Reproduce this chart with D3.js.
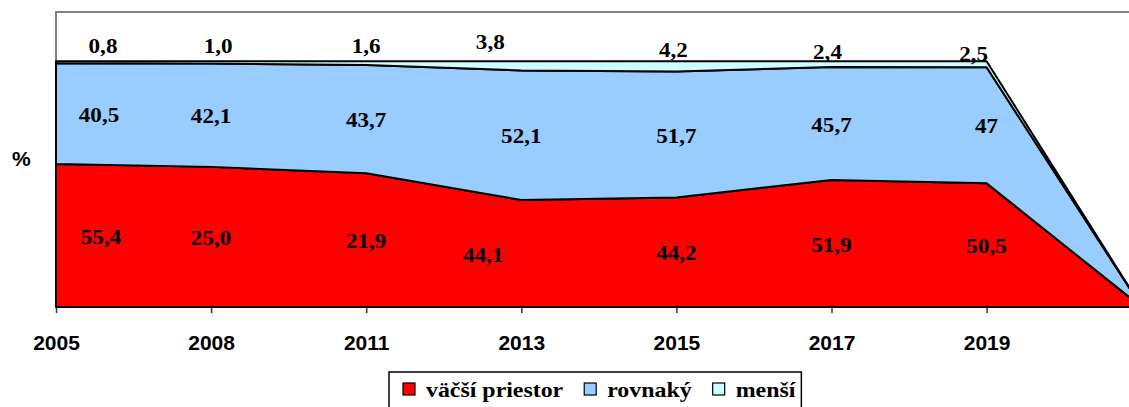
<!DOCTYPE html>
<html>
<head>
<meta charset="utf-8">
<script src="https://cdn.jsdelivr.net/npm/d3@7"></script>
<style>
  body { margin: 0; background: #fff; }
  svg { display: block; }
  .serif { font-family: "Liberation Serif", "Times New Roman", "DejaVu Serif", serif; font-weight: bold; font-size: 21px; }
  .legend-text { font-size: 22px; }
  .sans { font-family: "Liberation Sans", Arial, sans-serif; font-weight: bold; font-size: 21px; }
</style>
</head>
<body>
<div id="chart"></div>
<script>
// categories (last one is an empty category, the areas fall to zero there)
const years = ["2005", "2008", "2011", "2013", "2015", "2017", "2019", ""];

// stacked heights in %
const vacsi   = [58.2, 57.0, 54.4, 43.5, 44.5, 51.7, 50.3, 0];
const rovnaky = [41.0, 42.0, 44.0, 52.7, 51.3, 45.9, 47.2, 0];
const mensi   = [0.8, 1.0, 1.6, 3.8, 4.2, 2.4, 2.5, 0];

// data label texts as printed on the chart
const labelsVacsi   = ["55,4", "25,0", "21,9", "44,1", "44,2", "51,9", "50,5"];
const labelsRovnaky = ["40,5", "42,1", "43,7", "52,1", "51,7", "45,7", "47"];
const labelsMensi   = ["0,8", "1,0", "1,6", "3,8", "4,2", "2,4", "2,5"];

const seriesNames = ["väčší priestor", "rovnaký", "menší"];

const w = 1129, h = 407;
const plotLeft = 56, plotTop = 12, plotBottom = 307, step = 155.1;

const colors = { "väčší priestor": "#FF0000", "rovnaký": "#99CCFF", "menší": "#CCFFFF" };

// hand moved labels (the author dragged some of them)
const nudge = {
  "väčší priestor": { dx: [45, 0, 0, -38, 0, 0, 0], dy: [1, 1, 1, 1, 1, 1, 1] },
  "rovnaký":        { dx: [43, 0, 0, 0, 0, 0, 0],   dy: [1, 1, 1, 1, 1, 1, 1] },
  "menší":          { dx: [47, 7, 0, -31, -3, -4, -13], dy: [-15, -15, -15, -19, -11, -9, -7] }
};

// the serif texts in the original are a bit wider than normal
function stretch(sel, k) {
  sel.each(function() {
    let len = this.getComputedTextLength();
    d3.select(this)
      .attr("textLength", len * k)
      .attr("lengthAdjust", "spacingAndGlyphs");
  });
}

let table = years.map((y, i) => ({
  year: y, i: i,
  "väčší priestor": vacsi[i],
  "rovnaký": rovnaky[i],
  "menší": mensi[i]
}));

let stacked = d3.stack().keys(seriesNames)(table);

let svg = d3.select("#chart").append("svg")
  .attr("width", w)
  .attr("height", h);

let xScale = d3.scalePoint()
  .domain(d3.range(years.length))
  .range([plotLeft, plotLeft + step * (years.length - 1)]);

let yScale = d3.scaleLinear()
  .domain([0, 120])
  .range([plotBottom, plotTop]);

// plot area border (gray)
svg.append("path")
  .attr("d", "M" + plotLeft + "," + plotBottom + "V" + plotTop + "H" + w)
  .attr("fill", "none")
  .attr("stroke", "#808080")
  .attr("stroke-width", 2);

let area = d3.area()
  .x(d => xScale(d.data.i))
  .y0(d => yScale(d[0]))
  .y1(d => yScale(d[1]));

svg.selectAll("path.area")
  .data(stacked)
  .enter()
  .append("path")
  .attr("class", "area")
  .attr("d", area)
  .attr("fill", d => colors[d.key])
  .attr("stroke", "#000")
  .attr("stroke-width", 2)
  .attr("stroke-linejoin", "round");

// x axis
let xAxis = d3.axisBottom(xScale)
  .tickValues(d3.range(years.length - 1))
  .tickSize(6)
  .tickSizeOuter(0)
  .tickFormat(i => years[i]);

let gx = svg.append("g")
  .attr("transform", "translate(0," + plotBottom + ")")
  .call(xAxis);

gx.attr("font-family", null).attr("font-size", null);
gx.select(".domain").remove();
gx.append("line")
  .attr("x1", plotLeft).attr("x2", w)
  .attr("stroke", "#000").attr("stroke-width", 2);
gx.selectAll(".tick line").attr("stroke", "#333").attr("stroke-width", 1.5);
gx.selectAll(".tick text")
  .attr("class", "sans")
  .attr("y", 43)
  .attr("dy", 0)
  .attr("fill", "#000");

svg.append("text")
  .attr("class", "sans")
  .text("%")
  .attr("x", 12)
  .attr("y", 166);

// data labels
let labelTexts = { "väčší priestor": labelsVacsi, "rovnaký": labelsRovnaky, "menší": labelsMensi };

stacked.forEach(s => {
  let texts = labelTexts[s.key];
  let nd = nudge[s.key];
  svg.append("g")
    .selectAll("text")
    .data(s.slice(0, texts.length))
    .enter()
    .append("text")
    .attr("class", "serif")
    .text((d, i) => texts[i])
    .attr("x", (d, i) => xScale(d.data.i) + nd.dx[i])
    .attr("y", (d, i) => {
      if (s.key === "menší") return yScale(d[1]) + nd.dy[i];
      return (yScale(d[0]) + yScale(d[1])) / 2 + nd.dy[i];
    })
    .attr("dy", "0.34em")
    .attr("text-anchor", "middle")
    .call(stretch, 1.1);
});

// legend
let legend = svg.append("g");
let box = legend.append("rect")
  .attr("x", 389).attr("y", 372)
  .attr("height", 50)
  .attr("fill", "#fff")
  .attr("stroke", "#000")
  .attr("stroke-width", 1.5);

let lx = 403;
seriesNames.forEach(name => {
  legend.append("rect")
    .attr("x", lx).attr("y", 383)
    .attr("width", 12).attr("height", 12)
    .attr("fill", colors[name])
    .attr("stroke", "#000")
    .attr("stroke-width", 1.2);
  let t = legend.append("text")
    .attr("class", "serif legend-text")
    .text(name)
    .attr("x", lx + 23)
    .attr("y", 397)
    .call(stretch, 1.085);
  lx = lx + 23 + Number(t.attr("textLength")) + 21;
});
box.attr("width", lx - 21 + 6 - 389);
</script>
</body>
</html>
